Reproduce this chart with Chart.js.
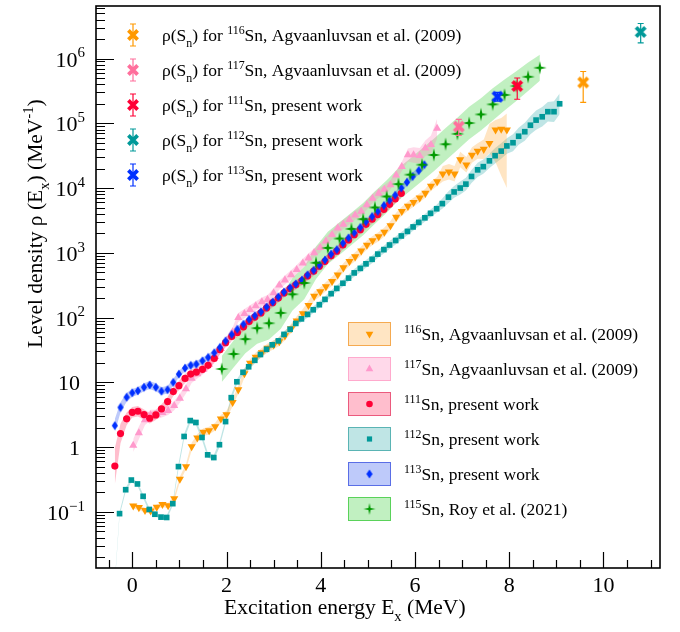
<!DOCTYPE html>
<html>
<head>
    <meta charset="utf-8">
    <title>Level density of Sn isotopes</title>
    <script src="https://cdn.jsdelivr.net/npm/chart.js"></script>
    <style>
        body { margin: 0; background: #fff; }
    </style>
</head>
<body>
    <canvas id="rhoChart" width="680" height="632"></canvas>

    <script>
        // ---- data (E in MeV, rho in 1/MeV) ----
        const sn116E = [0.02,0.14,0.27,0.39,0.52,0.64,0.76,0.89,1.01,1.14, 1.26,1.38,1.51,1.63,1.76,1.88,2.00,2.13,2.25,2.38,
                        2.50,2.62,2.75,2.87,3.00,3.12,3.24,3.37,3.49,3.62, 3.74,3.86,3.99,4.11,4.24,4.36,4.48,4.61,4.73,4.86,
                        4.98,5.10,5.23,5.35,5.48,5.60,5.72,5.85,5.97,6.10, 6.22,6.34,6.47,6.59,6.72,6.84,6.96,7.09,7.21,7.33,
                        7.46,7.58,7.71,7.83,7.95];
        const sn116Rho = [0.124,0.117,0.106,0.104,0.119,0.131,0.125,0.16,0.32,0.50, 1.02,1.39,1.70,1.80,2.08,2.73,3.18,4.92,7.7,13.7,
                          19.8,24.5,28.8,33.9,38,42.7,52.5,67.6,89,115, 155,214,251,302,363,457,589,741,871,1070,
                          1320,1550,1780,2090,2630,3550,4370,5250,6030,7080, 8320,10700,12600,16600,17800,16600,27500,22900,32400,37200,
                          39800,49000,79400,81300,79400];
        // band half widths in decades (up / down)
        const sn116Up = [0.04,0.04,0.04,0.04,0.04,0.04,0.04,0.04,0.04,0.04, 0.06,0.06,0.06,0.06,0.06,0.06,0.06,0.06,0.06,0.06,
                         0.06,0.07,0.07,0.07,0.07,0.07,0.07,0.07,0.07,0.07, 0.07,0.07,0.07,0.07,0.07,0.07,0.07,0.07,0.07,0.07,
                         0.07,0.07,0.07,0.07,0.07,0.07,0.07,0.07,0.07,0.07, 0.07,0.07,0.07,0.12,0.12,0.12,0.12,0.12,0.12,0.12,
                         0.15,0.30,0.15,0.17,0.25];
        const sn116Down = [0.04,0.04,0.04,0.04,0.04,0.04,0.04,0.04,0.04,0.04, 0.06,0.06,0.06,0.06,0.06,0.06,0.06,0.06,0.06,0.06,
                           0.06,0.07,0.07,0.07,0.07,0.07,0.07,0.07,0.07,0.07, 0.07,0.07,0.07,0.07,0.07,0.07,0.07,0.07,0.07,0.07,
                           0.07,0.07,0.07,0.07,0.07,0.07,0.07,0.07,0.07,0.07, 0.07,0.07,0.07,0.12,0.12,0.12,0.12,0.12,0.12,0.12,
                           0.15,0.15,0.50,0.72,0.90];

        const sn117E = [0.02,0.14,0.27,0.39,0.52,0.64,0.76,0.89,1.01,1.14, 1.26,1.38,1.51,1.63,1.76,1.88,2.00,2.13,2.25,2.38,
                        2.50,2.62,2.75,2.87,3.00,3.12,3.24,3.37,3.49,3.62, 3.74,3.86,3.99,4.11,4.24,4.36,4.48,4.61,4.73,4.86,
                        4.98,5.10,5.23,5.35,5.48,5.60,5.72,5.85,5.97,6.10, 6.22,6.34,6.47];
        const sn117Rho = [1.06,1.66,2.63,3.14,3.2,3.4,3.67,4.37,5.67,7.9, 11.5,13.5,15.8,19,25,33,44,60,100,115,
                          132,151,174,190,240,316,380,457,550,690, 830,1000,1200,1510,1900,2400,2750,3240,3800,4370,
                          5500,6900,8300,9500,11200,15800,21400,32400,32400,31600, 41200,46800,83200];
        const sn117Err = [0.10,0.10,0.08,0.08,0.07,0.07,0.07,0.07,0.07,0.07, 0.07,0.07,0.07,0.07,0.07,0.07,0.07,0.07,0.07,0.07,
                          0.07,0.07,0.07,0.07,0.07,0.07,0.07,0.07,0.07,0.07, 0.07,0.07,0.07,0.07,0.07,0.07,0.07,0.07,0.07,0.07,
                          0.07,0.07,0.07,0.07,0.07,0.07,0.07,0.10,0.12,0.12, 0.12,0.14,0.15];

        const sn111E = [-0.37,-0.25,-0.12,0.00,0.12,0.25,0.37,0.50,0.62,0.75, 0.87,0.99,1.12,1.24,1.36,1.49,1.61,1.74,1.86,1.98,
                        2.11,2.23,2.36,2.48,2.60,2.73,2.85,2.98,3.10,3.22, 3.35,3.47,3.60,3.72,3.85,3.97,4.09,4.22,4.34,4.47,
                        4.59,4.71,4.84,4.96,5.09,5.21,5.34,5.46,5.58,5.71];
        const sn111Rho = [0.51,1.62,2.73,3.45,3.58,3.18,2.79,3.14,3.89,5.04, 7.2,8.9,11.5,13.4,14.4,15.9,18.3,23.4,32,41,
                          51,59,72,87,102,118,141,170,200,240, 280,320,370,440,520,620,740,900,1060,1320,
                          1580,1900,2280,2750,3300,3900,4700,5600,6800,8300];
        const sn111Err = [0.28,0.15,0.10,0.08,0.08,0.08,0.08,0.08,0.07,0.07, 0.07,0.07,0.07,0.07,0.07,0.07,0.07,0.07,0.07,0.07,
                          0.07,0.07,0.07,0.07,0.07,0.07,0.07,0.07,0.07,0.07, 0.07,0.07,0.07,0.07,0.07,0.07,0.07,0.07,0.07,0.07,
                          0.07,0.07,0.07,0.07,0.07,0.07,0.07,0.07,0.07,0.07];

        const sn112E = [-0.39,-0.27,-0.14,-0.02,0.11,0.23,0.36,0.48,0.61,0.73, 0.86,0.98,1.10,1.23,1.35,1.48,1.60,1.73,1.85,1.98,
                        2.10,2.22,2.35,2.47,2.60,2.72,2.85,2.97,3.10,3.22, 3.35,3.47,3.59,3.72,3.84,3.97,4.09,4.22,4.34,4.47,
                        4.59,4.71,4.84,4.96,5.09,5.21,5.34,5.46,5.59,5.71, 5.84,5.96,6.08,6.21,6.33,6.46,6.58,6.71,6.83,6.96,
                        7.08,7.20,7.33,7.45,7.58,7.70,7.83,7.95,8.08,8.20, 8.33,8.45,8.57,8.70,8.82,8.95,9.07];
        const sn112Rho = [0.005,0.094,0.22,0.31,0.27,0.174,0.109,0.092,0.083,0.082, 0.134,0.50,1.46,2.57,2.4,1.41,0.76,0.69,1.09,2.48,
                          5.8,10.2,14.3,17.4,21.9,26.9,32.4,38.0,43.7,55, 66,81.3,95.5,112,132,158,191,234,282,339,
                          407,490,575,676,794,955,1120,1320,1550,1820, 2140,2510,2950,3470,4070,4790,5750,7240,8710,10000,
                          11500,15100,19100,21400,26300,31600,37200,44700,50100,63100, 74100,93300,112000,126000,151000,151000,200000];
        const sn112Err = [0.03,0.03,0.03,0.03,0.03,0.03,0.03,0.03,0.03,0.03, 0.03,0.04,0.04,0.04,0.04,0.04,0.04,0.04,0.04,0.04,
                          0.04,0.04,0.04,0.05,0.05,0.05,0.05,0.05,0.05,0.05, 0.05,0.05,0.05,0.05,0.05,0.05,0.05,0.05,0.05,0.05,
                          0.05,0.06,0.06,0.06,0.06,0.06,0.06,0.06,0.06,0.06, 0.06,0.06,0.06,0.06,0.06,0.06,0.08,0.09,0.09,0.10,
                          0.10,0.10,0.11,0.11,0.11,0.12, 0.12,0.12,0.13,0.13,0.14,0.14,0.15,0.15,0.15,0.16,0.16];

        const sn113E = [-0.37,-0.25,-0.12,0.00,0.12,0.25,0.37,0.50,0.62,0.75, 0.87,0.99,1.12,1.24,1.36,1.49,1.61,1.74,1.86,1.98,
                        2.11,2.23,2.36,2.48,2.60,2.73,2.85,2.98,3.10,3.22, 3.35,3.47,3.60,3.72,3.85,3.97,4.09,4.22,4.34,4.47,
                        4.59,4.71,4.84,4.96,5.09,5.21,5.34,5.46,5.58,5.71, 5.83,5.95,6.08,6.20];
        const sn113Rho = [2.15,4.1,5.9,6.9,7.4,8.4,9.1,8.4,7.3,7.7, 10,13.4,16.6,18.3,19.1,21.5,24.3,28.6,34.6,43.6,
                          55,66,79,94,107,123,146,174,209,248, 288,331,380,457,537,646,776,955,1120,1410,
                          1700,2040,2460,3020,3630,4370,5370,6460,7760,10000, 12300,15100,18600,22900];
        const sn113Err = [0.10,0.08,0.07,0.06,0.06,0.06,0.06,0.06,0.06,0.06, 0.05,0.05,0.05,0.05,0.05,0.05,0.05,0.05,0.05,0.05,
                          0.05,0.05,0.05,0.05,0.05,0.05,0.05,0.05,0.05,0.05, 0.05,0.05,0.05,0.05,0.05,0.05,0.05,0.05,0.05,0.05,
                          0.05,0.05,0.05,0.05,0.05,0.05,0.05,0.05,0.05,0.05, 0.06,0.06,0.06,0.07];

        const sn115E = [1.90,2.15,2.40,2.65,2.90,3.15,3.40,3.65,3.90,4.15, 4.40,4.65,4.90,5.15,5.40,5.65,5.90,6.15,6.40,6.65,
                        6.90,7.15,7.40,7.65,7.90,8.15,8.40,8.65];
        const sn115Rho = [16.1,27.4,46.5,68.7,81.9,118,229,342,702,1190, 1660,2340,3310,5010,7410,11500,16100,22900,32400,47500,
                          68700,101000,137000,196000,274000,376000,523000,720000];
        const sn115Err = [0.20,0.21,0.22,0.24,0.25,0.25,0.25,0.25,0.25,0.25, 0.25,0.25,0.25,0.25,0.25,0.25,0.25,0.25,0.25,0.25,
                          0.25,0.25,0.25,0.25,0.24,0.23,0.22,0.20];

        // rho(Sn) points: 116, 117, 111, 112, 113
        const snIso = ['116', '117', '111', '112', '113'];
        const snE = [9.57, 6.93, 8.17, 10.79, 7.75];
        const snRho = [4.27e5, 8.9e4, 3.76e5, 2.57e6, 2.57e5];
        const snLow = [2.1e5, 6.5e4, 2.35e5, 1.74e6, 2.2e5];
        const snHigh = [6.3e5, 1.15e5, 5.0e5, 3.47e6, 3.0e5];
        const snRefs = ['Agvaanluvsan et al. (2009)', 'Agvaanluvsan et al. (2009)', 'present work', 'present work', 'present work'];

        const bandIso = ['116', '117', '111', '112', '113', '115'];
        const bandRefs = ['Agvaanluvsan et al. (2009)', 'Agvaanluvsan et al. (2009)', 'present work',
                          'present work', 'present work', 'Roy et al. (2021)'];

        const xTickLabels = [0, 2, 4, 6, 8, 10];
        const yDecades = [-1, 0, 1, 2, 3, 4, 5, 6];

        // ---- styling ----
        const FONT = '"Liberation Serif", "DejaVu Serif", serif';
        const LEG = 17.5;   // legend font size
        const col = {
            o: '#ff9900', p: '#ff99cc', r: '#ff0035', t: '#009999', b: '#0030ff', g: '#009900',
            pX: '#ff6f9c'
        };
        const bandFill = {
            o: 'rgba(255,160,40,0.28)', p: 'rgba(255,130,185,0.30)', r: 'rgba(255,40,90,0.30)',
            t: 'rgba(0,150,150,0.25)', b: 'rgba(40,80,240,0.30)', g: 'rgba(50,205,50,0.30)'
        };
        const boxLine = {
            o: 'rgba(245,170,80,1)', p: 'rgba(255,170,205,1)', r: 'rgba(235,90,125,1)',
            t: 'rgba(90,180,180,1)', b: 'rgba(90,110,230,1)', g: 'rgba(90,210,90,1)'
        };

        function glyph(size, paint) {
            const c = document.createElement('canvas');
            c.width = size; c.height = size;
            paint(c.getContext('2d'), size / 2);
            return c;
        }
        function diamond(color) {
            return glyph(12, (g, m) => {
                g.fillStyle = color;
                g.beginPath();
                g.moveTo(m, m - 4.6); g.lineTo(m + 3.1, m); g.lineTo(m, m + 4.6); g.lineTo(m - 3.1, m);
                g.closePath(); g.fill();
            });
        }
        function star4(color, r) {
            return glyph(16, (g, m) => {
                g.fillStyle = color;
                g.beginPath();
                for (let i = 0; i < 8; i++) {
                    const rr = i % 2 ? r * 0.26 : r, a = i * Math.PI / 4 - Math.PI / 2;
                    g.lineTo(m + rr * Math.cos(a), m + rr * Math.sin(a));
                }
                g.closePath(); g.fill();
            });
        }
        function boldX(color) {
            return glyph(16, (g, m) => {
                g.strokeStyle = color; g.lineWidth = 3.8;
                g.beginPath();
                g.moveTo(m - 4.6, m - 4.6); g.lineTo(m + 4.6, m + 4.6);
                g.moveTo(m + 4.6, m - 4.6); g.lineTo(m - 4.6, m + 4.6);
                g.stroke();
            });
        }
        const blueDiamond = diamond(col.b);
        const greenStar = star4(col.g, 6.8);
        const greenStarSmall = star4(col.g, 6);
        const snColors = [col.o, col.pX, col.r, col.t, col.b];
        const snGlyphs = snColors.map(boldX);

        // band = two line datasets, upper one filled down to the lower one
        function band(xs, ys, up, down, fill) {
            const base = { borderWidth: 0, borderColor: 'rgba(0,0,0,0)', pointRadius: 0, showLine: true, tension: 0, order: 20 };
            return [
                Object.assign({ data: xs.map((x, i) => ({ x: x, y: ys[i] * Math.pow(10, up[i]) })), fill: '+1', backgroundColor: fill }, base),
                Object.assign({ data: xs.map((x, i) => ({ x: x, y: ys[i] / Math.pow(10, down[i]) })), fill: false }, base)
            ];
        }
        function markers(xs, ys, extra) {
            return Object.assign({
                data: xs.map((x, i) => ({ x: x, y: ys[i] })),
                showLine: false, pointBorderWidth: 0, fill: false
            }, extra);
        }

        const datasets = [].concat(
            band(sn116E, sn116Rho, sn116Up, sn116Down, bandFill.o),
            band(sn117E, sn117Rho, sn117Err, sn117Err, bandFill.p),
            band(sn111E, sn111Rho, sn111Err, sn111Err, bandFill.r),
            band(sn112E, sn112Rho, sn112Err, sn112Err, bandFill.t),
            band(sn113E, sn113Rho, sn113Err, sn113Err, bandFill.b),
            band(sn115E, sn115Rho, sn115Err, sn115Err, bandFill.g),
            [
                markers(sn116E, sn116Rho, { pointStyle: 'triangle', pointRotation: 180, pointRadius: 4.7, pointBackgroundColor: col.o, order: 6 }),
                markers(sn117E, sn117Rho, { pointStyle: 'triangle', pointRadius: 4.7, pointBackgroundColor: col.p, order: 5 }),
                markers(sn112E, sn112Rho, { pointStyle: 'rect', pointRadius: 4, pointBackgroundColor: col.t, order: 4 }),
                markers(sn111E, sn111Rho, { pointStyle: 'circle', pointRadius: 3.6, pointBackgroundColor: col.r, order: 3 }),
                markers(sn113E, sn113Rho, { pointStyle: blueDiamond, pointRadius: 4, order: 2 }),
                markers(sn115E, sn115Rho, { pointStyle: greenStar, pointRadius: 6, order: 1 }),
                markers(snE, snRho, { pointStyle: snGlyphs, pointRadius: 6, order: 0 })
            ]
        );

        // ---- rich text helper (sub / superscripts) ----
        function richWidth(ctx, parts, size) {
            let w = 0;
            parts.forEach(p => {
                ctx.font = (p[1] ? size * 0.68 : size) + 'px ' + FONT;
                w += ctx.measureText(p[0]).width;
            });
            return w;
        }
        function drawRich(ctx, x, y, parts, size) {
            parts.forEach(p => {
                const fs = p[1] ? size * 0.68 : size;
                ctx.font = fs + 'px ' + FONT;
                const dy = p[1] === 'sup' ? -size * 0.42 : (p[1] === 'sub' ? size * 0.33 : 0);
                ctx.fillText(p[0], x, y + dy);
                x += ctx.measureText(p[0]).width;
            });
        }

        function legendMarker(ctx, i, x, y) {
            ctx.save();
            ctx.beginPath();
            if (i === 0 || i === 1) {
                const r = 4.4, s = i === 0 ? 1 : -1;
                ctx.fillStyle = i === 0 ? col.o : col.p;
                ctx.moveTo(x, y + s * r);
                ctx.lineTo(x + r * 0.866, y - s * r * 0.5);
                ctx.lineTo(x - r * 0.866, y - s * r * 0.5);
                ctx.closePath(); ctx.fill();
            } else if (i === 2) {
                ctx.fillStyle = col.r; ctx.arc(x, y, 3.3, 0, Math.PI * 2); ctx.fill();
            } else if (i === 3) {
                ctx.fillStyle = col.t; ctx.fillRect(x - 2.6, y - 2.6, 5.2, 5.2);
            } else if (i === 4) {
                ctx.drawImage(blueDiamond, x - 6, y - 6);
            } else {
                ctx.drawImage(greenStarSmall, x - 8, y - 8);
            }
            ctx.restore();
        }

        const rootFrame = {
            id: 'rootFrame',
            afterDatasetsDraw(chart) {
                const { ctx, scales: { x, y } } = chart;
                ctx.save();
                ctx.lineWidth = 1.2;
                snE.forEach((e, i) => {
                    const px = x.getPixelForValue(e);
                    const y1 = y.getPixelForValue(snLow[i]), y2 = y.getPixelForValue(snHigh[i]);
                    ctx.strokeStyle = snColors[i];
                    ctx.beginPath();
                    ctx.moveTo(px, y1); ctx.lineTo(px, y2);
                    ctx.moveTo(px - 3, y1); ctx.lineTo(px + 3, y1);
                    ctx.moveTo(px - 3, y2); ctx.lineTo(px + 3, y2);
                    ctx.stroke();
                });
                ctx.restore();
            },
            afterDraw(chart) {
                const { ctx, chartArea: a, scales: { x, y } } = chart;
                ctx.save();
                ctx.strokeStyle = '#000';
                ctx.fillStyle = '#000';

                // ticks
                ctx.lineWidth = 1.2;
                ctx.beginPath();
                for (let v = -0.5; v <= 11; v += 0.5) {
                    const px = Math.round(x.getPixelForValue(v)) + 0.5;
                    const len = (v % 2 === 0) ? 16 : 8;
                    ctx.moveTo(px, a.bottom); ctx.lineTo(px, a.bottom - len);
                }
                for (let d = -2; d <= 6; d++) {
                    for (let k = 1; k <= 9; k++) {
                        const v = k * Math.pow(10, d);
                        if (v < y.min || v > y.max) continue;
                        const py = Math.round(y.getPixelForValue(v)) + 0.5;
                        ctx.moveTo(a.left, py); ctx.lineTo(a.left + (k === 1 ? 18 : 9), py);
                    }
                }
                ctx.stroke();

                // frame
                ctx.lineWidth = 1.6;
                ctx.strokeRect(a.left, a.top, a.right - a.left, a.bottom - a.top);

                // tick labels
                ctx.textBaseline = 'alphabetic';
                ctx.font = '22px ' + FONT;
                ctx.textAlign = 'center';
                xTickLabels.forEach(v => ctx.fillText(String(v), x.getPixelForValue(v), 592));
                ctx.textAlign = 'left';
                yDecades.forEach(d => {
                    const py = y.getPixelForValue(Math.pow(10, d)) + 8;
                    let parts;
                    if (d === 0) parts = [['1']];
                    else if (d === 1) parts = [['10']];
                    else parts = [['10'], [d < 0 ? '\u2212' + (-d) : String(d), 'sup']];
                    const w = richWidth(ctx, parts, 22);
                    const right = parts.length > 1 ? 85 : 80;
                    drawRich(ctx, right - w, py, parts, 22);
                });

                // axis titles
                drawRich(ctx, 224, 614, [['Excitation energy E'], ['x', 'sub'], [' (MeV)']], 21.5);
                ctx.save();
                ctx.translate(42, 348);
                ctx.rotate(-Math.PI / 2);
                drawRich(ctx, 0, 0, [['Level density \u03c1 (E'], ['x', 'sub'], [') (MeV'], ['-1', 'sup'], [')']], 21.5);
                ctx.restore();

                // legend: rho(Sn) points
                snIso.forEach((iso, i) => {
                    const ly = 35 + 35 * i;
                    ctx.strokeStyle = snColors[i];
                    ctx.lineWidth = 1.2;
                    ctx.beginPath();
                    ctx.moveTo(133, ly - 11); ctx.lineTo(133, ly + 11);
                    ctx.moveTo(130, ly - 11); ctx.lineTo(136, ly - 11);
                    ctx.moveTo(130, ly + 11); ctx.lineTo(136, ly + 11);
                    ctx.stroke();
                    ctx.drawImage(snGlyphs[i], 125, ly - 8);
                    ctx.fillStyle = '#000';
                    drawRich(ctx, 162, ly + 6, [['\u03c1(S'], ['n', 'sub'], [') for '], [iso, 'sup'], ['Sn, ' + snRefs[i]]], LEG);
                });

                // legend: bands
                const keys = ['o', 'p', 'r', 't', 'b', 'g'];
                bandIso.forEach((iso, i) => {
                    const ly = 334 + 35 * i;
                    ctx.fillStyle = '#fff';
                    ctx.fillRect(348, ly - 12, 43, 24);
                    ctx.fillStyle = bandFill[keys[i]];
                    ctx.fillRect(348, ly - 12, 43, 24);
                    ctx.strokeStyle = boxLine[keys[i]];
                    ctx.lineWidth = 1;
                    ctx.strokeRect(348.5, ly - 11.5, 42, 23);
                    legendMarker(ctx, i, 369.5, ly);
                    ctx.fillStyle = '#000';
                    drawRich(ctx, 404, ly + 6, [[iso, 'sup'], ['Sn, ' + bandRefs[i]]], LEG);
                });
                ctx.restore();
            }
        };

        const ctx = document.getElementById('rhoChart').getContext('2d');
        new Chart(ctx, {
            type: 'line',
            data: { datasets: datasets },
            options: {
                responsive: false,
                animation: false,
                layout: { padding: { left: 96, right: 20, top: 5, bottom: 64 } },
                scales: {
                    x: { type: 'linear', min: -0.77, max: 11.2, display: false },
                    y: { type: 'logarithmic', min: 0.0136, max: 6.47e6, display: false }
                },
                plugins: {
                    legend: { display: false },
                    tooltip: { enabled: false }
                }
            },
            plugins: [rootFrame]
        });
    </script>
</body>
</html>
